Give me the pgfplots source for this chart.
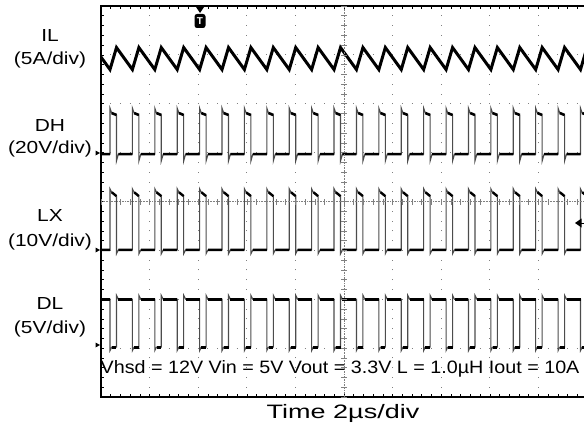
\documentclass[border=0pt]{standalone}
\usepackage{fontspec}
\setmainfont{Liberation Sans}
\newfontfamily\labfont[FakeStretch=1.2]{Liberation Sans}
\newfontfamily\txtfont[FakeStretch=1.1]{Liberation Sans}
\newfontfamily\timefont[FakeStretch=1.39]{Liberation Sans}
\usepackage{pgfplots}
\pgfplotsset{compat=1.18}
\begin{document}
\begin{tikzpicture}[x=1bp,y=1bp]
\begin{axis}[at={(101bp,29bp)}, anchor=south west, scale only axis,
  width=486bp, height=391bp, xmin=0, xmax=20, ymin=0, ymax=8,
  xtick={0,2,...,20}, ytick={0,1,...,8}, minor x tick num=4, minor y tick num=4,
  xticklabels={}, yticklabels={}, grid=major,
  major x grid style={gray, line width=0.9bp, dash pattern=on 0.9bp off 8.875bp, dash phase=0.45bp},
  major y grid style={gray, line width=0.9bp, dash pattern=on 0.9bp off 8.82bp, dash phase=0.45bp},
  tick align=inside, major tick length=3bp, minor tick length=3bp,
  every tick/.style={black, line width=0.6bp},
  axis line style={line width=1.6bp}]
% IL
\addplot[black, line width=3bp] coordinates {(0,6.955)
(0.370,6.70)(0.637,7.15)(1.292,6.70)(1.559,7.15)(2.214,6.70)(2.481,7.15)
(3.136,6.70)(3.403,7.15)(4.058,6.70)(4.325,7.15)(4.980,6.70)(5.247,7.15)
(5.902,6.70)(6.169,7.15)(6.824,6.70)(7.091,7.15)(7.746,6.70)(8.013,7.15)
(8.668,6.70)(8.935,7.15)(9.590,6.70)(9.857,7.15)(10.512,6.70)(10.779,7.15)
(11.434,6.70)(11.701,7.15)(12.356,6.70)(12.623,7.15)(13.278,6.70)(13.545,7.15)
(14.200,6.70)(14.467,7.15)(15.122,6.70)(15.389,7.15)(16.044,6.70)(16.311,7.15)
(16.966,6.70)(17.233,7.15)(17.888,6.70)(18.155,7.15)(18.810,6.70)(19.077,7.15)
(19.732,6.70)(19.999,7.15)};
% DH
\addplot[black!70, line width=1.1bp] coordinates {(0,4.97)
(0.370,4.97)(0.370,5.91)(0.440,5.81)(0.637,5.77)(0.637,4.83)(0.717,4.97)
(1.292,4.97)(1.292,5.91)(1.362,5.81)(1.559,5.77)(1.559,4.83)(1.639,4.97)
(2.214,4.97)(2.214,5.91)(2.284,5.81)(2.481,5.77)(2.481,4.83)(2.561,4.97)
(3.136,4.97)(3.136,5.91)(3.206,5.81)(3.403,5.77)(3.403,4.83)(3.483,4.97)
(4.058,4.97)(4.058,5.91)(4.128,5.81)(4.325,5.77)(4.325,4.83)(4.405,4.97)
(4.980,4.97)(4.980,5.91)(5.050,5.81)(5.247,5.77)(5.247,4.83)(5.327,4.97)
(5.902,4.97)(5.902,5.91)(5.972,5.81)(6.169,5.77)(6.169,4.83)(6.249,4.97)
(6.824,4.97)(6.824,5.91)(6.894,5.81)(7.091,5.77)(7.091,4.83)(7.171,4.97)
(7.746,4.97)(7.746,5.91)(7.816,5.81)(8.013,5.77)(8.013,4.83)(8.093,4.97)
(8.668,4.97)(8.668,5.91)(8.738,5.81)(8.935,5.77)(8.935,4.83)(9.015,4.97)
(9.590,4.97)(9.590,5.91)(9.660,5.81)(9.857,5.77)(9.857,4.83)(9.937,4.97)
(10.512,4.97)(10.512,5.91)(10.582,5.81)(10.779,5.77)(10.779,4.83)(10.859,4.97)
(11.434,4.97)(11.434,5.91)(11.504,5.81)(11.701,5.77)(11.701,4.83)(11.781,4.97)
(12.356,4.97)(12.356,5.91)(12.426,5.81)(12.623,5.77)(12.623,4.83)(12.703,4.97)
(13.278,4.97)(13.278,5.91)(13.348,5.81)(13.545,5.77)(13.545,4.83)(13.625,4.97)
(14.200,4.97)(14.200,5.91)(14.270,5.81)(14.467,5.77)(14.467,4.83)(14.547,4.97)
(15.122,4.97)(15.122,5.91)(15.192,5.81)(15.389,5.77)(15.389,4.83)(15.469,4.97)
(16.044,4.97)(16.044,5.91)(16.114,5.81)(16.311,5.77)(16.311,4.83)(16.391,4.97)
(16.966,4.97)(16.966,5.91)(17.036,5.81)(17.233,5.77)(17.233,4.83)(17.313,4.97)
(17.888,4.97)(17.888,5.91)(17.958,5.81)(18.155,5.77)(18.155,4.83)(18.235,4.97)
(18.810,4.97)(18.810,5.91)(18.880,5.81)(19.077,5.77)(19.077,4.83)(19.157,4.97)
(19.732,4.97)(19.732,5.91)(19.802,5.81)(19.999,5.77)(19.999,4.83)(20.079,4.97)};
\addplot[black, line width=2.6bp, unbounded coords=jump] coordinates {
(0,4.97)(0.370,4.97)(nan,nan)(0.440,5.81)(0.637,5.77)(nan,nan)
(0.717,4.97)(1.292,4.97)(nan,nan)(1.362,5.81)(1.559,5.77)(nan,nan)
(1.639,4.97)(2.214,4.97)(nan,nan)(2.284,5.81)(2.481,5.77)(nan,nan)
(2.561,4.97)(3.136,4.97)(nan,nan)(3.206,5.81)(3.403,5.77)(nan,nan)
(3.483,4.97)(4.058,4.97)(nan,nan)(4.128,5.81)(4.325,5.77)(nan,nan)
(4.405,4.97)(4.980,4.97)(nan,nan)(5.050,5.81)(5.247,5.77)(nan,nan)
(5.327,4.97)(5.902,4.97)(nan,nan)(5.972,5.81)(6.169,5.77)(nan,nan)
(6.249,4.97)(6.824,4.97)(nan,nan)(6.894,5.81)(7.091,5.77)(nan,nan)
(7.171,4.97)(7.746,4.97)(nan,nan)(7.816,5.81)(8.013,5.77)(nan,nan)
(8.093,4.97)(8.668,4.97)(nan,nan)(8.738,5.81)(8.935,5.77)(nan,nan)
(9.015,4.97)(9.590,4.97)(nan,nan)(9.660,5.81)(9.857,5.77)(nan,nan)
(9.937,4.97)(10.512,4.97)(nan,nan)(10.582,5.81)(10.779,5.77)(nan,nan)
(10.859,4.97)(11.434,4.97)(nan,nan)(11.504,5.81)(11.701,5.77)(nan,nan)
(11.781,4.97)(12.356,4.97)(nan,nan)(12.426,5.81)(12.623,5.77)(nan,nan)
(12.703,4.97)(13.278,4.97)(nan,nan)(13.348,5.81)(13.545,5.77)(nan,nan)
(13.625,4.97)(14.200,4.97)(nan,nan)(14.270,5.81)(14.467,5.77)(nan,nan)
(14.547,4.97)(15.122,4.97)(nan,nan)(15.192,5.81)(15.389,5.77)(nan,nan)
(15.469,4.97)(16.044,4.97)(nan,nan)(16.114,5.81)(16.311,5.77)(nan,nan)
(16.391,4.97)(16.966,4.97)(nan,nan)(17.036,5.81)(17.233,5.77)(nan,nan)
(17.313,4.97)(17.888,4.97)(nan,nan)(17.958,5.81)(18.155,5.77)(nan,nan)
(18.235,4.97)(18.810,4.97)(nan,nan)(18.880,5.81)(19.077,5.77)(nan,nan)
(19.157,4.97)(19.732,4.97)(nan,nan)(19.802,5.81)(19.999,5.77)};
% LX
\addplot[black!70, line width=1.1bp] coordinates {(0,3.01)
(0.370,3.01)(0.370,4.26)(0.440,4.19)(0.637,4.11)(0.637,2.93)(0.717,3.01)
(1.292,3.01)(1.292,4.26)(1.362,4.19)(1.559,4.11)(1.559,2.93)(1.639,3.01)
(2.214,3.01)(2.214,4.26)(2.284,4.19)(2.481,4.11)(2.481,2.93)(2.561,3.01)
(3.136,3.01)(3.136,4.26)(3.206,4.19)(3.403,4.11)(3.403,2.93)(3.483,3.01)
(4.058,3.01)(4.058,4.26)(4.128,4.19)(4.325,4.11)(4.325,2.93)(4.405,3.01)
(4.980,3.01)(4.980,4.26)(5.050,4.19)(5.247,4.11)(5.247,2.93)(5.327,3.01)
(5.902,3.01)(5.902,4.26)(5.972,4.19)(6.169,4.11)(6.169,2.93)(6.249,3.01)
(6.824,3.01)(6.824,4.26)(6.894,4.19)(7.091,4.11)(7.091,2.93)(7.171,3.01)
(7.746,3.01)(7.746,4.26)(7.816,4.19)(8.013,4.11)(8.013,2.93)(8.093,3.01)
(8.668,3.01)(8.668,4.26)(8.738,4.19)(8.935,4.11)(8.935,2.93)(9.015,3.01)
(9.590,3.01)(9.590,4.26)(9.660,4.19)(9.857,4.11)(9.857,2.93)(9.937,3.01)
(10.512,3.01)(10.512,4.26)(10.582,4.19)(10.779,4.11)(10.779,2.93)(10.859,3.01)
(11.434,3.01)(11.434,4.26)(11.504,4.19)(11.701,4.11)(11.701,2.93)(11.781,3.01)
(12.356,3.01)(12.356,4.26)(12.426,4.19)(12.623,4.11)(12.623,2.93)(12.703,3.01)
(13.278,3.01)(13.278,4.26)(13.348,4.19)(13.545,4.11)(13.545,2.93)(13.625,3.01)
(14.200,3.01)(14.200,4.26)(14.270,4.19)(14.467,4.11)(14.467,2.93)(14.547,3.01)
(15.122,3.01)(15.122,4.26)(15.192,4.19)(15.389,4.11)(15.389,2.93)(15.469,3.01)
(16.044,3.01)(16.044,4.26)(16.114,4.19)(16.311,4.11)(16.311,2.93)(16.391,3.01)
(16.966,3.01)(16.966,4.26)(17.036,4.19)(17.233,4.11)(17.233,2.93)(17.313,3.01)
(17.888,3.01)(17.888,4.26)(17.958,4.19)(18.155,4.11)(18.155,2.93)(18.235,3.01)
(18.810,3.01)(18.810,4.26)(18.880,4.19)(19.077,4.11)(19.077,2.93)(19.157,3.01)
(19.732,3.01)(19.732,4.26)(19.802,4.19)(19.999,4.11)(19.999,2.93)(20.079,3.01)};
\addplot[black, line width=2.4bp, unbounded coords=jump] coordinates {
(0,3.01)(0.370,3.01)(nan,nan)(0.440,4.19)(0.637,4.11)(nan,nan)
(0.717,3.01)(1.292,3.01)(nan,nan)(1.362,4.19)(1.559,4.11)(nan,nan)
(1.639,3.01)(2.214,3.01)(nan,nan)(2.284,4.19)(2.481,4.11)(nan,nan)
(2.561,3.01)(3.136,3.01)(nan,nan)(3.206,4.19)(3.403,4.11)(nan,nan)
(3.483,3.01)(4.058,3.01)(nan,nan)(4.128,4.19)(4.325,4.11)(nan,nan)
(4.405,3.01)(4.980,3.01)(nan,nan)(5.050,4.19)(5.247,4.11)(nan,nan)
(5.327,3.01)(5.902,3.01)(nan,nan)(5.972,4.19)(6.169,4.11)(nan,nan)
(6.249,3.01)(6.824,3.01)(nan,nan)(6.894,4.19)(7.091,4.11)(nan,nan)
(7.171,3.01)(7.746,3.01)(nan,nan)(7.816,4.19)(8.013,4.11)(nan,nan)
(8.093,3.01)(8.668,3.01)(nan,nan)(8.738,4.19)(8.935,4.11)(nan,nan)
(9.015,3.01)(9.590,3.01)(nan,nan)(9.660,4.19)(9.857,4.11)(nan,nan)
(9.937,3.01)(10.512,3.01)(nan,nan)(10.582,4.19)(10.779,4.11)(nan,nan)
(10.859,3.01)(11.434,3.01)(nan,nan)(11.504,4.19)(11.701,4.11)(nan,nan)
(11.781,3.01)(12.356,3.01)(nan,nan)(12.426,4.19)(12.623,4.11)(nan,nan)
(12.703,3.01)(13.278,3.01)(nan,nan)(13.348,4.19)(13.545,4.11)(nan,nan)
(13.625,3.01)(14.200,3.01)(nan,nan)(14.270,4.19)(14.467,4.11)(nan,nan)
(14.547,3.01)(15.122,3.01)(nan,nan)(15.192,4.19)(15.389,4.11)(nan,nan)
(15.469,3.01)(16.044,3.01)(nan,nan)(16.114,4.19)(16.311,4.11)(nan,nan)
(16.391,3.01)(16.966,3.01)(nan,nan)(17.036,4.19)(17.233,4.11)(nan,nan)
(17.313,3.01)(17.888,3.01)(nan,nan)(17.958,4.19)(18.155,4.11)(nan,nan)
(18.235,3.01)(18.810,3.01)(nan,nan)(18.880,4.19)(19.077,4.11)(nan,nan)
(19.157,3.01)(19.732,3.01)(nan,nan)(19.802,4.19)(19.999,4.11)};
% DL
\addplot[black!70, line width=1.1bp] coordinates {(0,2.00)
(0.370,2.00)(0.370,0.95)(0.440,1.02)(0.637,1.02)(0.637,2.08)(0.717,2.00)
(1.292,2.00)(1.292,0.95)(1.362,1.02)(1.559,1.02)(1.559,2.08)(1.639,2.00)
(2.214,2.00)(2.214,0.95)(2.284,1.02)(2.481,1.02)(2.481,2.08)(2.561,2.00)
(3.136,2.00)(3.136,0.95)(3.206,1.02)(3.403,1.02)(3.403,2.08)(3.483,2.00)
(4.058,2.00)(4.058,0.95)(4.128,1.02)(4.325,1.02)(4.325,2.08)(4.405,2.00)
(4.980,2.00)(4.980,0.95)(5.050,1.02)(5.247,1.02)(5.247,2.08)(5.327,2.00)
(5.902,2.00)(5.902,0.95)(5.972,1.02)(6.169,1.02)(6.169,2.08)(6.249,2.00)
(6.824,2.00)(6.824,0.95)(6.894,1.02)(7.091,1.02)(7.091,2.08)(7.171,2.00)
(7.746,2.00)(7.746,0.95)(7.816,1.02)(8.013,1.02)(8.013,2.08)(8.093,2.00)
(8.668,2.00)(8.668,0.95)(8.738,1.02)(8.935,1.02)(8.935,2.08)(9.015,2.00)
(9.590,2.00)(9.590,0.95)(9.660,1.02)(9.857,1.02)(9.857,2.08)(9.937,2.00)
(10.512,2.00)(10.512,0.95)(10.582,1.02)(10.779,1.02)(10.779,2.08)(10.859,2.00)
(11.434,2.00)(11.434,0.95)(11.504,1.02)(11.701,1.02)(11.701,2.08)(11.781,2.00)
(12.356,2.00)(12.356,0.95)(12.426,1.02)(12.623,1.02)(12.623,2.08)(12.703,2.00)
(13.278,2.00)(13.278,0.95)(13.348,1.02)(13.545,1.02)(13.545,2.08)(13.625,2.00)
(14.200,2.00)(14.200,0.95)(14.270,1.02)(14.467,1.02)(14.467,2.08)(14.547,2.00)
(15.122,2.00)(15.122,0.95)(15.192,1.02)(15.389,1.02)(15.389,2.08)(15.469,2.00)
(16.044,2.00)(16.044,0.95)(16.114,1.02)(16.311,1.02)(16.311,2.08)(16.391,2.00)
(16.966,2.00)(16.966,0.95)(17.036,1.02)(17.233,1.02)(17.233,2.08)(17.313,2.00)
(17.888,2.00)(17.888,0.95)(17.958,1.02)(18.155,1.02)(18.155,2.08)(18.235,2.00)
(18.810,2.00)(18.810,0.95)(18.880,1.02)(19.077,1.02)(19.077,2.08)(19.157,2.00)
(19.732,2.00)(19.732,0.95)(19.802,1.02)(19.999,1.02)(19.999,2.08)(20.079,2.00)};
\addplot[black, line width=2.8bp, unbounded coords=jump] coordinates {
(0,2.00)(0.370,2.00)(nan,nan)(0.440,1.02)(0.637,1.02)(nan,nan)
(0.717,2.00)(1.292,2.00)(nan,nan)(1.362,1.02)(1.559,1.02)(nan,nan)
(1.639,2.00)(2.214,2.00)(nan,nan)(2.284,1.02)(2.481,1.02)(nan,nan)
(2.561,2.00)(3.136,2.00)(nan,nan)(3.206,1.02)(3.403,1.02)(nan,nan)
(3.483,2.00)(4.058,2.00)(nan,nan)(4.128,1.02)(4.325,1.02)(nan,nan)
(4.405,2.00)(4.980,2.00)(nan,nan)(5.050,1.02)(5.247,1.02)(nan,nan)
(5.327,2.00)(5.902,2.00)(nan,nan)(5.972,1.02)(6.169,1.02)(nan,nan)
(6.249,2.00)(6.824,2.00)(nan,nan)(6.894,1.02)(7.091,1.02)(nan,nan)
(7.171,2.00)(7.746,2.00)(nan,nan)(7.816,1.02)(8.013,1.02)(nan,nan)
(8.093,2.00)(8.668,2.00)(nan,nan)(8.738,1.02)(8.935,1.02)(nan,nan)
(9.015,2.00)(9.590,2.00)(nan,nan)(9.660,1.02)(9.857,1.02)(nan,nan)
(9.937,2.00)(10.512,2.00)(nan,nan)(10.582,1.02)(10.779,1.02)(nan,nan)
(10.859,2.00)(11.434,2.00)(nan,nan)(11.504,1.02)(11.701,1.02)(nan,nan)
(11.781,2.00)(12.356,2.00)(nan,nan)(12.426,1.02)(12.623,1.02)(nan,nan)
(12.703,2.00)(13.278,2.00)(nan,nan)(13.348,1.02)(13.545,1.02)(nan,nan)
(13.625,2.00)(14.200,2.00)(nan,nan)(14.270,1.02)(14.467,1.02)(nan,nan)
(14.547,2.00)(15.122,2.00)(nan,nan)(15.192,1.02)(15.389,1.02)(nan,nan)
(15.469,2.00)(16.044,2.00)(nan,nan)(16.114,1.02)(16.311,1.02)(nan,nan)
(16.391,2.00)(16.966,2.00)(nan,nan)(17.036,1.02)(17.233,1.02)(nan,nan)
(17.313,2.00)(17.888,2.00)(nan,nan)(17.958,1.02)(18.155,1.02)(nan,nan)
(18.235,2.00)(18.810,2.00)(nan,nan)(18.880,1.02)(19.077,1.02)(nan,nan)
(19.157,2.00)(19.732,2.00)(nan,nan)(19.802,1.02)(19.999,1.02)};
\end{axis}
% centre cross lines with ticks
\draw[gray, line width=0.6bp, densely dotted] (344,29) -- (344,420);
\draw[gray, line width=0.6bp, densely dotted] (101,224.5) -- (587,224.5);
\foreach \i in {0,...,40} \draw[gray, line width=0.6bp] (341,29+9.775*\i) -- (347,29+9.775*\i);
\foreach \i in {0,...,50} \draw[gray, line width=0.6bp] (101+9.72*\i,221.5) -- (101+9.72*\i,227.5);
% trigger markers
\fill (196,419) -- (204,419) -- (200,413) -- cycle;
\fill[rounded corners=2.5bp] (194.5,398) rectangle (205.5,412);
\node[white, font=\bfseries\fontsize{10}{10}\selectfont] at (200,405) {T};
\fill (575,203) -- (581.5,207.5) -- (581.5,198.5) -- cycle;
\draw[line width=1bp] (581,203) -- (585,203);
% ground markers
\foreach \g in {273,176,81} \fill (95.5,\g+2.5) -- (95.5,\g-2.5) -- (100,\g) -- cycle;
% channel labels
\begin{scope}[every node/.style={anchor=base, font=\labfont\fontsize{17.5}{20}\selectfont}]
\node at (50,384.5) {IL};
\node at (50,361.5) {(5A/div)};
\node at (50,294.5) {DH};
\node at (50,272.5) {(20V/div)};
\node at (50,204.5) {LX};
\node at (50,179.5) {(10V/div)};
\node at (50,116.5) {DL};
\node at (50,92.5) {(5V/div)};
\end{scope}
\node[anchor=base west, inner sep=0pt, font=\txtfont\fontsize{18}{20}\selectfont] at (100.5,53) {Vhsd = 12V Vin = 5V Vout = 3.3V L = 1.0µH Iout = 10A};
\node[anchor=base, inner sep=0pt, font=\timefont\fontsize{19.5}{20}\selectfont] at (343,8) {Time 2µs/div};
\pgfresetboundingbox
\useasboundingbox (0,0) rectangle (584,426);
\end{tikzpicture}
\end{document}
